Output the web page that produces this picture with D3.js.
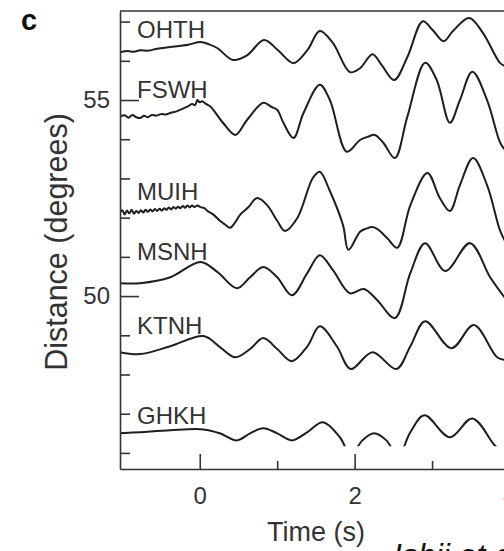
<!DOCTYPE html>
<html>
<head>
    <title>Seismograms - distance vs time</title>
    <script src="https://d3js.org/d3.v7.min.js"></script>
    <style>
        body { margin: 0; background: #ffffff; overflow: hidden; }
        text { font-family: "Liberation Sans", Arial, sans-serif; fill: #333; }
        .trace { fill: none; stroke: #1e1e1e; stroke-width: 2px; stroke-linejoin: round; }
        .axis path, .axis line { stroke: #333; stroke-width: 1.6px; }
    </style>
</head>
<body>
<div id="chart"></div>
<script>
    // station names and epicentral distance (degrees) of each trace baseline
    const stations = ["OHTH", "FSWH", "MUIH", "MSNH", "KTNH", "GHKH"];
    const baseDist = [56.22, 54.57, 52.12, 50.33, 48.57, 46.50];

    // waveforms: [time (s), offset (degrees)]
    const ohth = [[-1.03,0.00],[-0.93,0.03],[-0.85,0.01],[-0.77,0.05],[-0.66,0.04],[-0.55,0.09],[-0.38,0.13],
        [-0.15,0.19],[0.01,0.26],[0.12,0.20],[0.23,0.10],[0.43,-0.20],[0.61,-0.08],[0.83,0.31],[1.01,0.05],
        [1.21,-0.28],[1.39,0.05],[1.55,0.54],[1.72,0.23],[1.94,-0.51],[2.07,-0.41],[2.23,-0.05],[2.35,-0.33],
        [2.51,-0.71],[2.68,-0.13],[2.88,0.79],[3.01,0.56],[3.15,0.28],[3.27,0.54],[3.48,0.87],[3.66,0.48],
        [3.88,-0.28],[3.95,-0.36]];
    const fswh = [[-1.03,0.00],[-0.97,0.04],[-0.92,-0.02],[-0.87,0.05],[-0.82,-0.01],[-0.77,-0.03],[-0.72,0.03],
        [-0.67,-0.01],[-0.62,0.05],[-0.56,0.03],[-0.50,0.07],[-0.44,0.06],[-0.38,0.10],[-0.30,0.14],[-0.22,0.21],
        [-0.16,0.26],[-0.10,0.33],[-0.06,0.30],[-0.03,0.43],[0.00,0.37],[0.03,0.40],[0.08,0.33],[0.14,0.26],
        [0.30,-0.15],[0.46,-0.46],[0.61,-0.08],[0.82,0.36],[0.93,0.25],[1.00,0.18],[1.08,-0.15],[1.21,-0.54],
        [1.34,0.10],[1.55,0.82],[1.68,0.43],[1.90,-0.89],[2.07,-0.59],[2.18,-0.50],[2.26,-0.46],[2.37,-0.66],
        [2.52,-1.05],[2.68,0.00],[2.91,1.38],[3.06,0.94],[3.23,-0.15],[3.36,0.43],[3.52,1.15],[3.71,0.43],
        [3.88,-0.66],[3.95,-0.86]];
    const muih = [[-1.03,0.00],[-1.00,0.07],[-0.97,-0.04],[-0.94,0.06],[-0.91,-0.01],[-0.88,0.08],[-0.85,-0.02],
        [-0.82,0.05],[-0.79,0.00],[-0.76,0.07],[-0.73,0.01],[-0.70,0.08],[-0.67,0.03],[-0.64,0.09],[-0.61,0.04],
        [-0.58,0.10],[-0.55,0.05],[-0.52,0.11],[-0.49,0.06],[-0.46,0.12],[-0.43,0.08],[-0.40,0.14],[-0.37,0.09],
        [-0.34,0.15],[-0.31,0.11],[-0.28,0.16],[-0.25,0.12],[-0.22,0.18],[-0.19,0.13],[-0.16,0.19],[-0.13,0.14],
        [-0.10,0.19],[-0.07,0.15],[-0.03,0.19],[0.01,0.15],[0.06,0.12],[0.10,0.05],[0.18,-0.05],[0.26,-0.20],
        [0.33,-0.30],[0.39,-0.38],[0.45,-0.26],[0.52,-0.05],[0.63,0.15],[0.74,0.38],[0.87,0.20],[1.00,-0.20],
        [1.10,-0.46],[1.26,-0.13],[1.46,0.89],[1.55,1.05],[1.68,0.56],[1.85,-0.31],[1.92,-0.94],[2.07,-0.48],
        [2.15,-0.40],[2.23,-0.36],[2.30,-0.42],[2.42,-0.64],[2.55,-0.89],[2.72,0.20],[2.94,1.02],[3.10,0.38],
        [3.23,0.05],[3.36,0.71],[3.53,1.40],[3.71,0.71],[3.88,-0.46],[3.95,-0.74]];
    const msnh = [[-1.03,0.00],[-0.77,0.00],[-0.38,0.15],[0.01,0.54],[0.23,0.28],[0.48,-0.13],[0.65,0.15],
        [0.82,0.41],[1.00,0.15],[1.19,-0.31],[1.39,0.26],[1.55,0.71],[1.72,0.33],[1.94,-0.26],[2.12,-0.15],
        [2.29,-0.43],[2.52,-0.89],[2.72,0.26],[2.91,1.02],[3.17,0.31],[3.49,1.02],[3.75,0.15],[3.95,-0.40]];
    const ktnh = [[-1.03,0.00],[-0.77,-0.05],[-0.38,0.15],[0.05,0.41],[0.26,0.13],[0.46,-0.13],[0.65,0.08],
        [0.82,0.36],[1.00,0.08],[1.19,-0.23],[1.39,0.15],[1.55,0.66],[1.77,0.15],[1.95,-0.43],[2.23,0.00],
        [2.54,-0.43],[2.72,0.15],[2.91,0.79],[3.25,0.10],[3.54,0.69],[3.84,-0.13],[3.95,-0.20]];
    const ghkh = [[-1.03,0.00],[-0.77,0.03],[-0.38,0.08],[0.05,0.10],[0.26,0.00],[0.48,-0.18],[0.65,0.00],
        [0.82,0.13],[1.00,0.00],[1.19,-0.18],[1.39,0.03],[1.59,0.28],[1.81,-0.10],[1.95,-0.56],[2.10,-0.18],
        [2.25,0.00],[2.41,-0.18],[2.56,-0.59],[2.72,0.03],[2.90,0.46],[3.23,-0.10],[3.52,0.38],[3.81,-0.31],
        [3.95,-0.56]];
    const waveforms = [ohth, fswh, muih, msnh, ktnh, ghkh];

    // GHKH trace is cut off below this distance in the figure
    const ghkhFloor = 46.17;

    const xMajor = [0, 2, 4];
    const xMinor = [1, 3];
    const yMajor = [50, 55];
    const yMinor = [46, 47, 48, 49, 51, 52, 53, 54, 56, 57];

    const width = 504;
    const height = 551;
    const plotLeft = 120, plotTop = 11, plotBottom = 469;

    const svg = d3.select("#chart")
        .append("svg")
        .attr("width", width)
        .attr("height", height);

    const x = d3.scaleLinear().domain([-1.03, 4]).range([plotLeft, 509.5]);
    const y = d3.scaleLinear().domain([45.59, 57.27]).range([plotBottom, plotTop]);

    // clip for the plot, and a lower one for GHKH
    const defs = svg.append("defs");
    defs.append("clipPath").attr("id", "plot")
        .append("rect").attr("x", plotLeft).attr("y", plotTop)
        .attr("width", width - plotLeft).attr("height", plotBottom - plotTop);
    defs.append("clipPath").attr("id", "ghkhclip")
        .append("rect").attr("x", plotLeft).attr("y", plotTop)
        .attr("width", width - plotLeft).attr("height", y(ghkhFloor) - plotTop);

    // traces
    const line = d3.line().curve(d3.curveCatmullRom.alpha(0.5));
    waveforms.forEach(function (wf, i) {
        svg.append("path")
            .attr("class", "trace")
            .attr("clip-path", stations[i] === "GHKH" ? "url(#ghkhclip)" : "url(#plot)")
            .attr("d", line(wf.map(p => [x(p[0]), y(baseDist[i] + p[1])])));
    });

    // frame: top border
    svg.append("line")
        .attr("x1", plotLeft).attr("x2", width)
        .attr("y1", plotTop).attr("y2", plotTop)
        .attr("stroke", "#666").attr("stroke-width", 2);

    // y axis: minor inward ticks, then major ticks with labels
    svg.append("g").attr("class", "axis")
        .attr("transform", `translate(${plotLeft},0)`)
        .call(d3.axisLeft(y).tickValues(yMinor).tickSize(-10).tickFormat(""))
        .call(g => g.select(".domain").remove());
    svg.append("g").attr("class", "axis")
        .attr("transform", `translate(${plotLeft},0)`)
        .call(d3.axisLeft(y).tickValues(yMajor).tickSize(-19).tickSizeOuter(0).tickPadding(10).tickFormat(d3.format("d")))
        .call(g => g.selectAll("text").attr("font-size", 24).style("fill", "#333"));

    // x axis
    svg.append("g").attr("class", "axis")
        .attr("transform", `translate(0,${plotBottom})`)
        .call(d3.axisBottom(x).tickValues(xMinor).tickSize(-8).tickFormat(""))
        .call(g => g.select(".domain").remove());
    svg.append("g").attr("class", "axis")
        .attr("transform", `translate(0,${plotBottom})`)
        .call(d3.axisBottom(x).tickValues(xMajor).tickSize(-15).tickSizeOuter(0).tickPadding(18).tickFormat(d3.format("d")))
        .call(g => g.selectAll("text").attr("font-size", 24).style("fill", "#333"));

    // station labels (pixel nudges relative to each baseline)
    const labelShift = { OHTH: -14, FSWH: -19, MUIH: -13, MSNH: -23, KTNH: -18, GHKH: -9 };
    svg.selectAll(".station")
        .data(stations)
        .enter()
        .append("text")
        .attr("class", "station")
        .attr("x", 137)
        .attr("y", (d, i) => y(baseDist[i]) + labelShift[d])
        .attr("font-size", 24)
        .text(d => d);

    // axis titles
    svg.append("text")
        .attr("transform", "translate(67,242) rotate(-90)")
        .attr("text-anchor", "middle")
        .attr("font-size", 30.5)
        .text("Distance (degrees)");

    svg.append("text")
        .attr("x", 316).attr("y", 541)
        .attr("text-anchor", "middle")
        .attr("font-size", 27)
        .text("Time (s)");

    // panel letter and cut-off credit
    svg.append("text")
        .attr("x", 21).attr("y", 30)
        .attr("font-size", 29)
        .attr("font-weight", "bold")
        .style("fill", "#111")
        .text("c");

    svg.append("text")
        .attr("x", 393).attr("y", 566)
        .attr("font-size", 32)
        .attr("font-style", "italic")
        .style("fill", "#111")
        .text("Ishii et al.");
</script>
</body>
</html>
